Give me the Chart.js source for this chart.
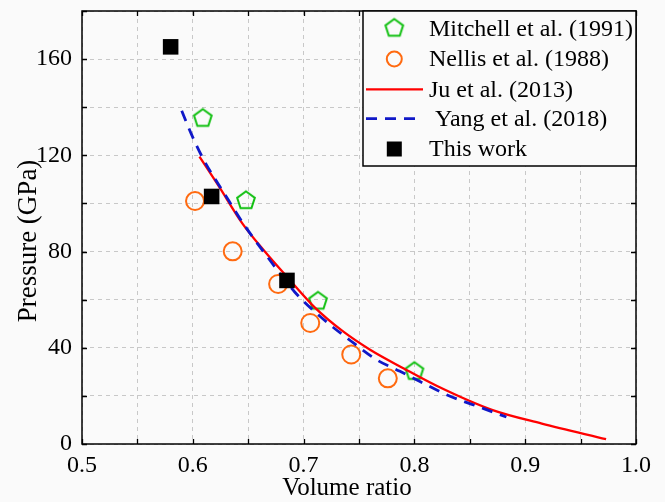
<!DOCTYPE html>
<html>
<head>
<meta charset="utf-8">
<script src="https://cdn.jsdelivr.net/npm/chart.js@4.4.1/dist/chart.umd.min.js"></script>
<style>
  html, body { margin: 0; padding: 0; background: #fafafa; }
  canvas { display: block; }
</style>
</head>
<body>
<canvas id="c" width="665" height="502"></canvas>
<script>
// ---- Data ----
const mitchellX = [0.609, 0.648, 0.713, 0.800];
const mitchellY = [135.7, 101.5, 59.7, 30.5];

const nellisX = [0.602, 0.636, 0.677, 0.706, 0.743, 0.776];
const nellisY = [101.0, 80.1, 66.5, 50.3, 37.2, 27.3];

const juX = [0.606, 0.623, 0.645, 0.665, 0.685, 0.710, 0.735, 0.760, 0.790, 0.820, 0.870, 0.915, 0.973];
const juY = [119.5, 107.5, 91.5, 80.0, 69.5, 56.8, 47.0, 39.2, 31.5, 24.2, 14.2, 8.5, 2.0];

const yangX = [0.590, 0.599, 0.610, 0.621, 0.632, 0.645, 0.667, 0.692, 0.715, 0.745, 0.766, 0.787, 0.805, 0.829, 0.862, 0.883];
const yangY = [138.5, 128.5, 118.0, 109.5, 101.5, 92.0, 78.0, 63.2, 53.0, 42.0, 35.0, 30.2, 26.0, 20.5, 14.8, 11.2];

const thisWorkX = [0.580, 0.617, 0.685];
const thisWorkY = [165.1, 102.9, 68.0];

const seriesLabels = ['Mitchell et al. (1991)', 'Nellis et al. (1988)', 'Ju et al. (2013)', ' Yang et al. (2018)', 'This work'];
const xTickLabels = ['0.5', '0.6', '0.7', '0.8', '0.9', '1.0'];
const yTickLabels = ['0', '40', '80', '120', '160'];
const xTitle = 'Volume ratio';
const yTitle = 'Pressure (GPa)';

// ---- helpers ----
const pts = (xs, ys) => xs.map((x, i) => ({ x: x, y: ys[i] }));
const FONT = 'Liberation Serif, Times New Roman, serif';
const GREEN = '#12c012', ORANGE = '#ff6a10', RED = '#ff0000', BLUE = '#1018c8';

function makePentagon(color) {
  const c = document.createElement('canvas');
  c.width = 24; c.height = 24;
  const g = c.getContext('2d');
  g.strokeStyle = color; g.lineWidth = 2; g.lineJoin = 'miter';
  g.beginPath();
  const R = 9.3, cx = 12, cy = 12.8;
  for (let k = 0; k < 5; k++) {
    const a = -Math.PI / 2 + k * 2 * Math.PI / 5;
    const px = cx + R * Math.cos(a), py = cy + R * Math.sin(a);
    if (k === 0) g.moveTo(px, py); else g.lineTo(px, py);
  }
  g.closePath(); g.stroke();
  return c;
}
const pentagon = makePentagon(GREEN);

const isMajor = (v, step) => Math.abs(Math.round(v / step) - v / step) < 1e-6;

// ---- plugin: frame, inward ticks, titles, legend ----
const framePlugin = {
  id: 'frame',
  afterDraw(chart) {
    const { ctx, chartArea: a, scales } = chart;
    const xs = scales.x, ys = scales.y;
    ctx.save();
    // inward ticks on all four sides
    ctx.strokeStyle = '#000'; ctx.lineWidth = 1.3;
    const tl = 5;
    ctx.beginPath();
    xs.ticks.forEach(t => {
      const px = Math.round(xs.getPixelForValue(t.value)) + 0.5;
      ctx.moveTo(px, a.bottom); ctx.lineTo(px, a.bottom - tl);
      ctx.moveTo(px, a.top); ctx.lineTo(px, a.top + tl);
    });
    ys.ticks.forEach(t => {
      const py = Math.round(ys.getPixelForValue(t.value)) + 0.5;
      ctx.moveTo(a.left, py); ctx.lineTo(a.left + tl, py);
      ctx.moveTo(a.right, py); ctx.lineTo(a.right - tl, py);
    });
    ctx.stroke();
    // frame
    ctx.lineWidth = 1.5;
    ctx.strokeRect(a.left, a.top, a.right - a.left, a.bottom - a.top);

    ctx.fillStyle = '#000';
    ctx.textAlign = 'center'; ctx.textBaseline = 'middle';
    // x title
    ctx.font = '25px ' + FONT;
    ctx.fillText(xTitle, 347, 488);
    // y title
    ctx.save();
    ctx.translate(29, 241);
    ctx.rotate(-Math.PI / 2);
    ctx.font = '27px ' + FONT;
    ctx.fillText(yTitle, 0, 0);
    ctx.restore();

    // legend
    const lx = 363, ly = a.top, lw = a.right - 363, lh = 155;
    ctx.fillStyle = '#fafafa';
    ctx.fillRect(lx, ly, lw, lh);
    ctx.strokeStyle = '#000'; ctx.lineWidth = 1.5;
    ctx.strokeRect(lx, ly, lw, lh);
    const rowY = [28.3, 59, 89.3, 118.6, 149];
    const mx = 394.3, tx = 429;
    ctx.font = '24px ' + FONT;
    ctx.textAlign = 'left'; ctx.textBaseline = 'middle';
    chart.data.datasets.forEach((ds, i) => {
      const y = rowY[i];
      if (ds.showLine) {
        ctx.save();
        ctx.strokeStyle = ds.borderColor; ctx.lineWidth = ds.borderWidth;
        ctx.setLineDash(ds.borderDash || []);
        ctx.beginPath(); ctx.moveTo(366, y); ctx.lineTo(423, y); ctx.stroke();
        ctx.restore();
      } else if (ds.pointStyle === pentagon) {
        ctx.drawImage(pentagon, mx - 12, y - 12.8);
      } else if (ds.pointStyle === 'circle') {
        ctx.save();
        ctx.strokeStyle = ds.borderColor; ctx.lineWidth = ds.borderWidth;
        ctx.beginPath(); ctx.arc(mx, y, 7.5, 0, Math.PI * 2); ctx.stroke();
        ctx.restore();
      } else {
        ctx.fillStyle = '#000';
        ctx.fillRect(mx - 7.5, y - 7.5, 15, 15);
      }
      ctx.fillStyle = '#000';
      ctx.fillText(ds.label, tx, y + 1);
    });
    ctx.restore();
  }
};

new Chart(document.getElementById('c'), {
  type: 'scatter',
  data: {
    datasets: [
      { label: seriesLabels[0], data: pts(mitchellX, mitchellY), pointStyle: pentagon,
        showLine: false, order: 3 },
      { label: seriesLabels[1], data: pts(nellisX, nellisY), pointStyle: 'circle', pointRadius: 9,
        borderColor: ORANGE, backgroundColor: 'rgba(0,0,0,0)', borderWidth: 2, showLine: false, order: 4 },
      { label: seriesLabels[2], data: pts(juX, juY), showLine: true, borderColor: RED, borderWidth: 2.3,
        pointRadius: 0, cubicInterpolationMode: 'monotone', fill: false, order: 2 },
      { label: seriesLabels[3], data: pts(yangX, yangY), showLine: true, borderColor: BLUE, borderWidth: 2.8,
        borderDash: [11, 8], pointRadius: 0, cubicInterpolationMode: 'monotone', fill: false, order: 1 },
      { label: seriesLabels[4], data: pts(thisWorkX, thisWorkY), pointStyle: 'rect', pointRadius: 11,
        backgroundColor: '#000', borderColor: '#000', borderWidth: 0, showLine: false, order: 0 }
    ]
  },
  options: {
    responsive: false,
    animation: false,
    layout: { padding: { top: 11, right: 29, left: 0, bottom: 0 } },
    plugins: { legend: { display: false }, tooltip: { enabled: false } },
    scales: {
      x: {
        type: 'linear', min: 0.5, max: 1.0,
        afterFit: s => { s.height = 58; s.paddingLeft = 0; s.paddingRight = 0; },
        ticks: {
          stepSize: 0.05, autoSkip: false, maxRotation: 0, color: '#000', padding: 7,
          font: { family: FONT, size: 24 },
          callback: v => isMajor(v, 0.1) ? xTickLabels[Math.round((v - 0.5) / 0.1)] : ''
        },
        grid: { color: '#c8c8c8', lineWidth: 1, drawTicks: false },
        border: { display: false, dash: [4, 4] },
        title: { display: false }
      },
      y: {
        type: 'linear', min: 0, max: 180,
        afterFit: s => { s.width = 82; s.paddingTop = 0; s.paddingBottom = 0; },
        ticks: {
          stepSize: 20, autoSkip: false, color: '#000', padding: 10,
          font: { family: FONT, size: 24 },
          callback: v => isMajor(v, 40) ? yTickLabels[Math.round(v / 40)] : ''
        },
        grid: { color: '#c8c8c8', lineWidth: 1, drawTicks: false },
        border: { display: false, dash: [4, 4] }
      }
    }
  },
  plugins: [framePlugin]
});
</script>
</body>
</html>
